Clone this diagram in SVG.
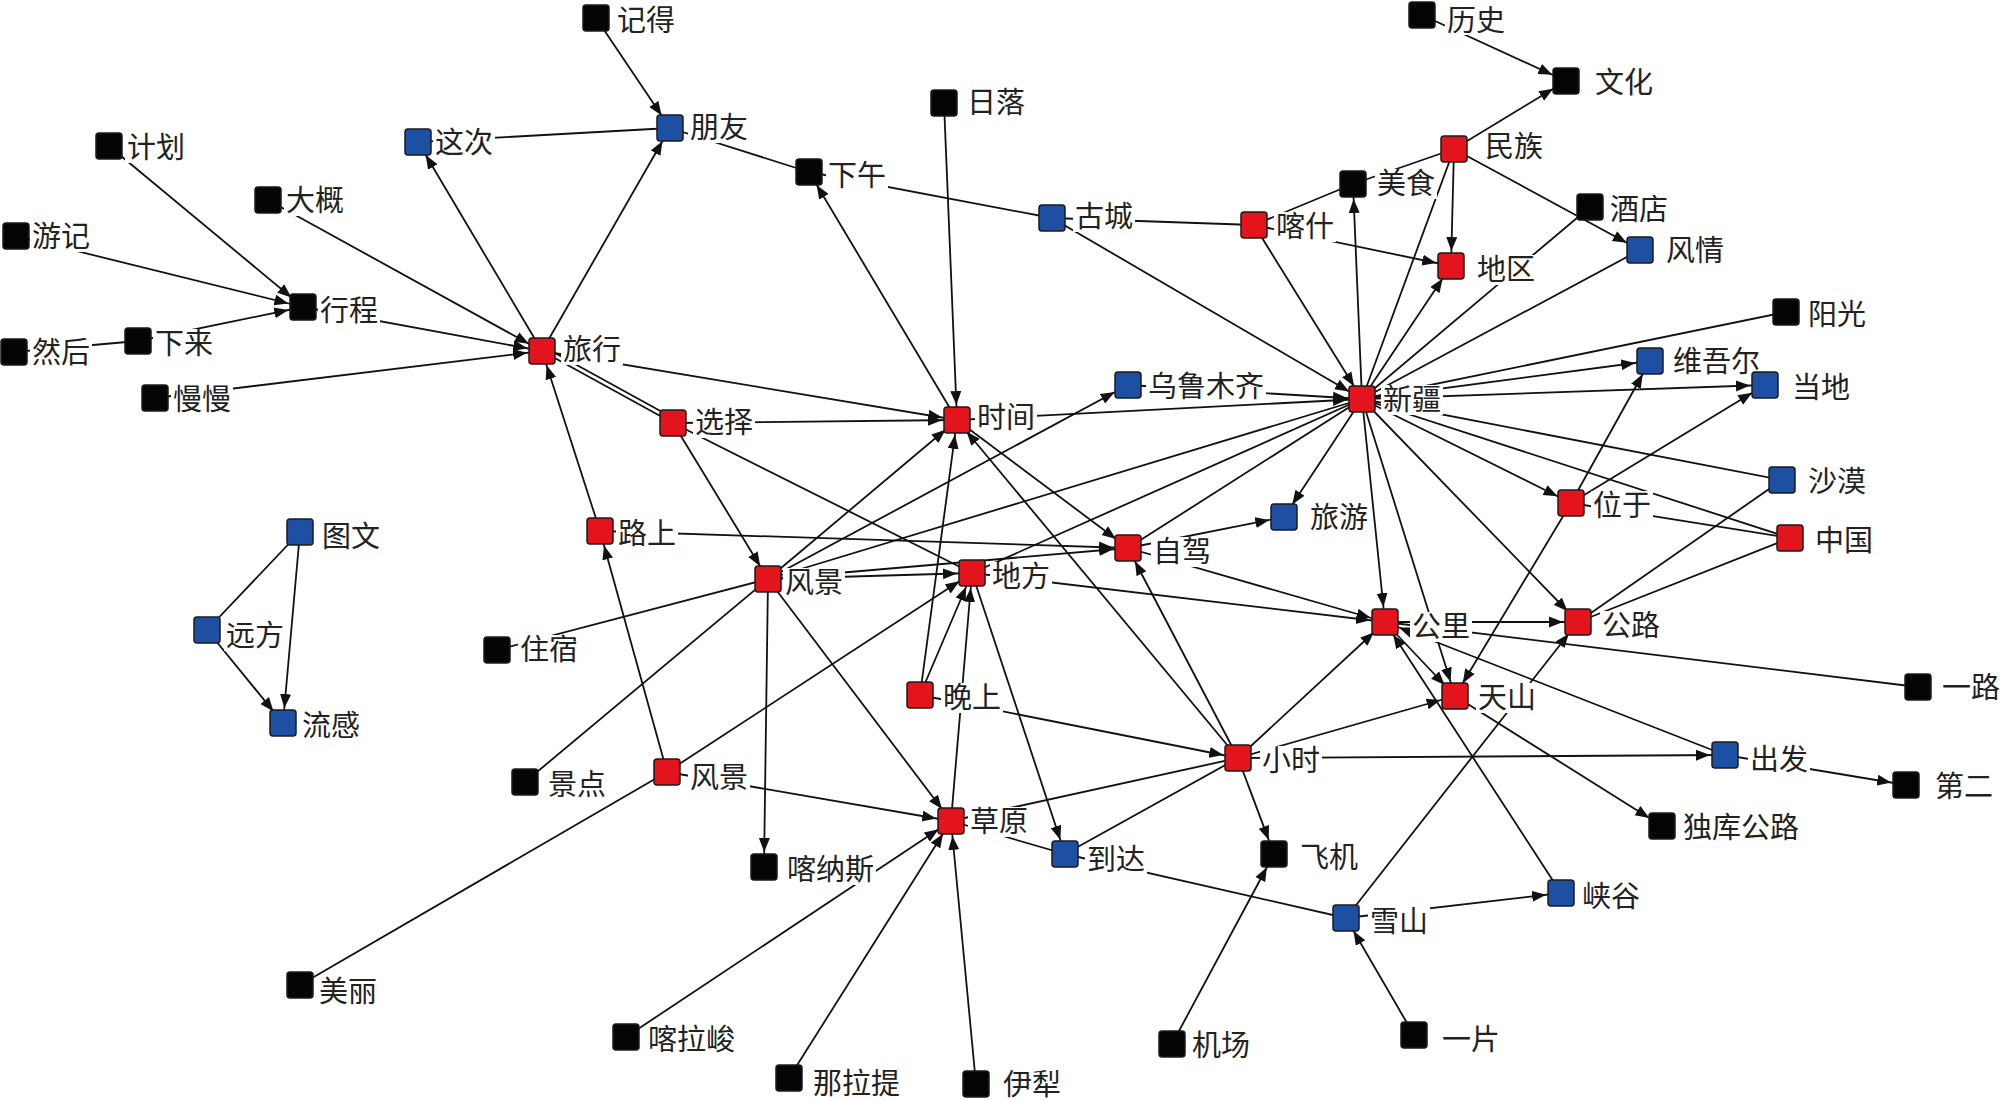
<svg xmlns="http://www.w3.org/2000/svg" width="2000" height="1100" viewBox="0 0 2000 1100">
<defs>
<style>
.e line{stroke:#111;stroke-width:1.8;fill:none}
.a{marker-end:url(#arr)}
.n{stroke:#1b1b1b;stroke-width:1.5}
.r{fill:#e3141b}
.b{fill:#1d50a3}
.k{fill:#050505}
.bg{fill:#fff}
.t{font-family:"Noto Sans CJK SC","Noto Sans",sans-serif;font-size:29px;fill:#222}
</style>
<marker id="arr" markerUnits="userSpaceOnUse" viewBox="0 0 30 12" markerWidth="30" markerHeight="12" refX="29" refY="6" orient="auto"><path d="M0,0.5 L14,6 L0,11.5 z" fill="#111"/></marker>
</defs>
<rect x="0" y="0" width="2000" height="1100" fill="#fff"/>
<g id="edges" class="e">
<line class="a" x1="596" y1="18" x2="670" y2="128"/>
<line x1="418" y1="142" x2="670" y2="128"/>
<line class="a" x1="542" y1="351" x2="418" y2="142"/>
<line class="a" x1="542" y1="351" x2="670" y2="128"/>
<line x1="670" y1="128" x2="809" y2="172"/>
<line x1="809" y1="172" x2="1052" y2="218"/>
<line class="a" x1="957" y1="420" x2="809" y2="172"/>
<line class="a" x1="944" y1="103" x2="957" y2="420"/>
<line class="a" x1="109" y1="146" x2="303" y2="307"/>
<line class="a" x1="16" y1="236" x2="303" y2="307"/>
<line class="a" x1="138" y1="341" x2="303" y2="307"/>
<line x1="14" y1="352" x2="138" y2="341"/>
<line class="a" x1="268" y1="200" x2="542" y2="351"/>
<line class="a" x1="303" y1="307" x2="542" y2="351"/>
<line class="a" x1="155" y1="398" x2="542" y2="351"/>
<line class="a" x1="542" y1="351" x2="957" y2="420"/>
<line x1="673" y1="423" x2="542" y2="351"/>
<line x1="675" y1="419" x2="544" y2="347"/>
<line class="a" x1="673" y1="423" x2="957" y2="420"/>
<line class="a" x1="673" y1="423" x2="768" y2="579"/>
<line x1="673" y1="423" x2="972" y2="573"/>
<line class="a" x1="600" y1="531" x2="542" y2="351"/>
<line class="a" x1="600" y1="531" x2="1128" y2="548"/>
<line class="a" x1="768" y1="579" x2="957" y2="420"/>
<line class="a" x1="768" y1="579" x2="1128" y2="385"/>
<line x1="768" y1="579" x2="1362" y2="399"/>
<line class="a" x1="768" y1="579" x2="972" y2="573"/>
<line class="a" x1="768" y1="579" x2="1128" y2="548"/>
<line class="a" x1="768" y1="579" x2="951" y2="821"/>
<line class="a" x1="768" y1="579" x2="764" y2="867"/>
<line x1="768" y1="579" x2="497" y2="650"/>
<line x1="768" y1="579" x2="525" y2="782"/>
<line class="a" x1="667" y1="772" x2="600" y2="531"/>
<line class="a" x1="667" y1="772" x2="972" y2="573"/>
<line class="a" x1="667" y1="772" x2="951" y2="821"/>
<line x1="667" y1="772" x2="300" y2="985"/>
<line class="a" x1="920" y1="695" x2="957" y2="420"/>
<line class="a" x1="920" y1="695" x2="972" y2="573"/>
<line class="a" x1="920" y1="695" x2="1238" y2="758"/>
<line class="a" x1="951" y1="821" x2="972" y2="573"/>
<line x1="972" y1="573" x2="1362" y2="399"/>
<line class="a" x1="972" y1="573" x2="1385" y2="622"/>
<line class="a" x1="972" y1="573" x2="1065" y2="854"/>
<line class="a" x1="957" y1="420" x2="1362" y2="399"/>
<line class="a" x1="957" y1="420" x2="1128" y2="548"/>
<line class="a" x1="1238" y1="758" x2="957" y2="420"/>
<line class="a" x1="1238" y1="758" x2="1128" y2="548"/>
<line x1="1128" y1="548" x2="1362" y2="399"/>
<line class="a" x1="1128" y1="548" x2="1284" y2="517"/>
<line class="a" x1="1128" y1="548" x2="1385" y2="622"/>
<line class="a" x1="1128" y1="385" x2="1362" y2="399"/>
<line x1="1052" y1="218" x2="1254" y2="225"/>
<line class="a" x1="1052" y1="218" x2="1362" y2="399"/>
<line class="a" x1="1254" y1="225" x2="1362" y2="399"/>
<line class="a" x1="1254" y1="225" x2="1451" y2="266"/>
<line x1="1254" y1="225" x2="1353" y2="184"/>
<line class="a" x1="1362" y1="399" x2="1353" y2="184"/>
<line x1="1353" y1="184" x2="1454" y2="149"/>
<line x1="1362" y1="399" x2="1454" y2="149"/>
<line class="a" x1="1454" y1="149" x2="1451" y2="266"/>
<line class="a" x1="1454" y1="149" x2="1566" y2="81"/>
<line class="a" x1="1422" y1="15" x2="1566" y2="81"/>
<line class="a" x1="1454" y1="149" x2="1640" y2="250"/>
<line class="a" x1="1362" y1="399" x2="1451" y2="266"/>
<line x1="1362" y1="399" x2="1590" y2="207"/>
<line x1="1362" y1="399" x2="1640" y2="250"/>
<line x1="1362" y1="399" x2="1786" y2="312"/>
<line class="a" x1="1362" y1="399" x2="1650" y2="361"/>
<line class="a" x1="1362" y1="399" x2="1765" y2="385"/>
<line x1="1362" y1="399" x2="1782" y2="480"/>
<line x1="1362" y1="399" x2="1790" y2="538"/>
<line class="a" x1="1362" y1="399" x2="1571" y2="503"/>
<line class="a" x1="1362" y1="399" x2="1578" y2="622"/>
<line class="a" x1="1362" y1="399" x2="1455" y2="696"/>
<line class="a" x1="1362" y1="399" x2="1385" y2="622"/>
<line class="a" x1="1362" y1="399" x2="1284" y2="517"/>
<line class="a" x1="1571" y1="503" x2="1650" y2="361"/>
<line class="a" x1="1571" y1="503" x2="1765" y2="385"/>
<line x1="1571" y1="503" x2="1790" y2="538"/>
<line class="a" x1="1571" y1="503" x2="1455" y2="696"/>
<line x1="1782" y1="480" x2="1578" y2="622"/>
<line x1="1790" y1="538" x2="1578" y2="622"/>
<line class="a" x1="1385" y1="622" x2="1578" y2="622"/>
<line x1="1385" y1="622" x2="1918" y2="687"/>
<line class="a" x1="1385" y1="622" x2="1455" y2="696"/>
<line class="a" x1="1725" y1="755" x2="1385" y2="622"/>
<line class="a" x1="1561" y1="893" x2="1385" y2="622"/>
<line class="a" x1="1238" y1="758" x2="1385" y2="622"/>
<line class="a" x1="1238" y1="758" x2="1455" y2="696"/>
<line class="a" x1="1238" y1="758" x2="1725" y2="755"/>
<line class="a" x1="1725" y1="755" x2="1906" y2="785"/>
<line class="a" x1="1455" y1="696" x2="1662" y2="826"/>
<line class="a" x1="1346" y1="918" x2="1578" y2="622"/>
<line class="a" x1="1346" y1="918" x2="1561" y2="893"/>
<line class="a" x1="1414" y1="1035" x2="1346" y2="918"/>
<line x1="1065" y1="854" x2="1346" y2="918"/>
<line x1="951" y1="821" x2="1065" y2="854"/>
<line x1="951" y1="821" x2="1238" y2="758"/>
<line x1="1065" y1="854" x2="1238" y2="758"/>
<line class="a" x1="1238" y1="758" x2="1274" y2="854"/>
<line class="a" x1="1172" y1="1044" x2="1274" y2="854"/>
<line class="a" x1="626" y1="1037" x2="951" y2="821"/>
<line class="a" x1="789" y1="1078" x2="951" y2="821"/>
<line class="a" x1="976" y1="1084" x2="951" y2="821"/>
<line x1="300" y1="532" x2="207" y2="630"/>
<line class="a" x1="207" y1="630" x2="283" y2="723"/>
<line class="a" x1="300" y1="532" x2="283" y2="723"/>
</g>
<g id="n-jide"><rect class="bg" x="615" y="6" width="62" height="30"/><text class="t" x="617" y="31">记得</text><rect class="n k" x="583" y="5" width="26" height="26" rx="3"/></g>
<g id="n-pengyou"><rect class="bg" x="688" y="113" width="62" height="30"/><text class="t" x="690" y="138">朋友</text><rect class="n b" x="657" y="115" width="26" height="26" rx="3"/></g>
<g id="n-zheci"><rect class="bg" x="433" y="128" width="62" height="30"/><text class="t" x="435" y="153">这次</text><rect class="n b" x="405" y="129" width="26" height="26" rx="3"/></g>
<g id="n-jihua"><rect class="bg" x="125" y="133" width="62" height="30"/><text class="t" x="127" y="158">计划</text><rect class="n k" x="96" y="133" width="26" height="26" rx="3"/></g>
<g id="n-dagai"><rect class="bg" x="284" y="186" width="62" height="30"/><text class="t" x="286" y="211">大概</text><rect class="n k" x="255" y="187" width="26" height="26" rx="3"/></g>
<g id="n-youji"><rect class="bg" x="30" y="222" width="62" height="30"/><text class="t" x="32" y="247">游记</text><rect class="n k" x="3" y="223" width="26" height="26" rx="3"/></g>
<g id="n-xingcheng"><rect class="bg" x="318" y="296" width="62" height="30"/><text class="t" x="320" y="321">行程</text><rect class="n k" x="290" y="294" width="26" height="26" rx="3"/></g>
<g id="n-ranhou"><rect class="bg" x="30" y="338" width="62" height="30"/><text class="t" x="32" y="363">然后</text><rect class="n k" x="1" y="339" width="26" height="26" rx="3"/></g>
<g id="n-xialai"><rect class="bg" x="153" y="329" width="62" height="30"/><text class="t" x="155" y="354">下来</text><rect class="n k" x="125" y="328" width="26" height="26" rx="3"/></g>
<g id="n-manman"><rect class="bg" x="171" y="385" width="62" height="30"/><text class="t" x="173" y="410">慢慢</text><rect class="n k" x="142" y="385" width="26" height="26" rx="3"/></g>
<g id="n-lvxing"><rect class="bg" x="561" y="335" width="62" height="30"/><text class="t" x="563" y="360">旅行</text><rect class="n r" x="529" y="338" width="26" height="26" rx="3"/></g>
<g id="n-xiawu"><rect class="bg" x="826" y="161" width="62" height="30"/><text class="t" x="828" y="186">下午</text><rect class="n k" x="796" y="159" width="26" height="26" rx="3"/></g>
<g id="n-riluo"><rect class="bg" x="965" y="88" width="62" height="30"/><text class="t" x="967" y="113">日落</text><rect class="n k" x="931" y="90" width="26" height="26" rx="3"/></g>
<g id="n-gucheng"><rect class="bg" x="1073" y="202" width="62" height="30"/><text class="t" x="1075" y="227">古城</text><rect class="n b" x="1039" y="205" width="26" height="26" rx="3"/></g>
<g id="n-kashi"><rect class="bg" x="1274" y="212" width="62" height="30"/><text class="t" x="1276" y="237">喀什</text><rect class="n r" x="1241" y="212" width="26" height="26" rx="3"/></g>
<g id="n-meishi"><rect class="bg" x="1375" y="169" width="62" height="30"/><text class="t" x="1377" y="194">美食</text><rect class="n k" x="1340" y="171" width="26" height="26" rx="3"/></g>
<g id="n-minzu"><rect class="bg" x="1483" y="132" width="62" height="30"/><text class="t" x="1485" y="157">民族</text><rect class="n r" x="1441" y="136" width="26" height="26" rx="3"/></g>
<g id="n-diqu"><rect class="bg" x="1475" y="255" width="62" height="30"/><text class="t" x="1477" y="280">地区</text><rect class="n r" x="1438" y="253" width="26" height="26" rx="3"/></g>
<g id="n-lishi"><rect class="bg" x="1445" y="5" width="62" height="30"/><text class="t" x="1447" y="31">历史</text><rect class="n k" x="1409" y="2" width="26" height="26" rx="3"/></g>
<g id="n-wenhua"><rect class="bg" x="1593" y="68" width="62" height="30"/><text class="t" x="1595" y="93">文化</text><rect class="n k" x="1553" y="68" width="26" height="26" rx="3"/></g>
<g id="n-jiudian"><rect class="bg" x="1608" y="195" width="62" height="30"/><text class="t" x="1610" y="220">酒店</text><rect class="n k" x="1577" y="194" width="26" height="26" rx="3"/></g>
<g id="n-fengqing"><rect class="bg" x="1664" y="236" width="62" height="30"/><text class="t" x="1666" y="261">风情</text><rect class="n b" x="1627" y="237" width="26" height="26" rx="3"/></g>
<g id="n-yangguang"><rect class="bg" x="1806" y="300" width="62" height="30"/><text class="t" x="1808" y="325">阳光</text><rect class="n k" x="1773" y="299" width="26" height="26" rx="3"/></g>
<g id="n-weiwuer"><rect class="bg" x="1671" y="347" width="91" height="30"/><text class="t" x="1673" y="372">维吾尔</text><rect class="n b" x="1637" y="348" width="26" height="26" rx="3"/></g>
<g id="n-dangdi"><rect class="bg" x="1790" y="373" width="62" height="30"/><text class="t" x="1792" y="398">当地</text><rect class="n b" x="1752" y="372" width="26" height="26" rx="3"/></g>
<g id="n-shamo"><rect class="bg" x="1806" y="467" width="62" height="30"/><text class="t" x="1808" y="492">沙漠</text><rect class="n b" x="1769" y="467" width="26" height="26" rx="3"/></g>
<g id="n-weiyu"><rect class="bg" x="1591" y="491" width="62" height="30"/><text class="t" x="1593" y="516">位于</text><rect class="n r" x="1558" y="490" width="26" height="26" rx="3"/></g>
<g id="n-zhongguo"><rect class="bg" x="1813" y="526" width="62" height="30"/><text class="t" x="1815" y="551">中国</text><rect class="n r" x="1777" y="525" width="26" height="26" rx="3"/></g>
<g id="n-gonglu"><rect class="bg" x="1600" y="611" width="62" height="30"/><text class="t" x="1602" y="636">公路</text><rect class="n r" x="1565" y="609" width="26" height="26" rx="3"/></g>
<g id="n-yilu"><rect class="bg" x="1940" y="673" width="60" height="30"/><text class="t" x="1942" y="698">一路</text><rect class="n k" x="1905" y="674" width="26" height="26" rx="3"/></g>
<g id="n-xuanze"><rect class="bg" x="693" y="408" width="62" height="30"/><text class="t" x="695" y="433">选择</text><rect class="n r" x="660" y="410" width="26" height="26" rx="3"/></g>
<g id="n-shijian"><rect class="bg" x="975" y="403" width="62" height="30"/><text class="t" x="977" y="428">时间</text><rect class="n r" x="944" y="407" width="26" height="26" rx="3"/></g>
<g id="n-lushang"><rect class="bg" x="616" y="519" width="62" height="30"/><text class="t" x="618" y="544">路上</text><rect class="n r" x="587" y="518" width="26" height="26" rx="3"/></g>
<g id="n-fengjing1"><rect class="bg" x="783" y="568" width="62" height="30"/><text class="t" x="785" y="593">风景</text><rect class="n r" x="755" y="566" width="26" height="26" rx="3"/></g>
<g id="n-difang"><rect class="bg" x="990" y="562" width="62" height="30"/><text class="t" x="992" y="587">地方</text><rect class="n r" x="959" y="560" width="26" height="26" rx="3"/></g>
<g id="n-wanshang"><rect class="bg" x="941" y="683" width="62" height="30"/><text class="t" x="943" y="708">晚上</text><rect class="n r" x="907" y="682" width="26" height="26" rx="3"/></g>
<g id="n-zhusu"><rect class="bg" x="518" y="635" width="62" height="30"/><text class="t" x="520" y="660">住宿</text><rect class="n k" x="484" y="637" width="26" height="26" rx="3"/></g>
<g id="n-tuwen"><rect class="bg" x="320" y="522" width="62" height="30"/><text class="t" x="322" y="547">图文</text><rect class="n b" x="287" y="519" width="26" height="26" rx="3"/></g>
<g id="n-yuanfang"><rect class="bg" x="224" y="621" width="62" height="30"/><text class="t" x="226" y="646">远方</text><rect class="n b" x="194" y="617" width="26" height="26" rx="3"/></g>
<g id="n-liugan"><rect class="bg" x="300" y="711" width="62" height="30"/><text class="t" x="302" y="736">流感</text><rect class="n b" x="270" y="710" width="26" height="26" rx="3"/></g>
<g id="n-wulumuqi"><rect class="bg" x="1146" y="372" width="120" height="30"/><text class="t" x="1148" y="397">乌鲁木齐</text><rect class="n b" x="1115" y="372" width="26" height="26" rx="3"/></g>
<g id="n-xinjiang"><rect class="bg" x="1381" y="385" width="62" height="30"/><text class="t" x="1383" y="410">新疆</text><rect class="n r" x="1349" y="386" width="26" height="26" rx="3"/></g>
<g id="n-lvyou"><rect class="bg" x="1308" y="503" width="62" height="30"/><text class="t" x="1310" y="528">旅游</text><rect class="n b" x="1271" y="504" width="26" height="26" rx="3"/></g>
<g id="n-zijia"><rect class="bg" x="1151" y="537" width="62" height="30"/><text class="t" x="1153" y="562">自驾</text><rect class="n r" x="1115" y="535" width="26" height="26" rx="3"/></g>
<g id="n-gongli"><rect class="bg" x="1410" y="612" width="62" height="30"/><text class="t" x="1412" y="637">公里</text><rect class="n r" x="1372" y="609" width="26" height="26" rx="3"/></g>
<g id="n-tianshan"><rect class="bg" x="1476" y="683" width="62" height="30"/><text class="t" x="1478" y="708">天山</text><rect class="n r" x="1442" y="683" width="26" height="26" rx="3"/></g>
<g id="n-meili"><rect class="bg" x="317" y="977" width="62" height="30"/><text class="t" x="319" y="1002">美丽</text><rect class="n k" x="287" y="972" width="26" height="26" rx="3"/></g>
<g id="n-jingdian"><rect class="bg" x="546" y="770" width="62" height="30"/><text class="t" x="548" y="795">景点</text><rect class="n k" x="512" y="769" width="26" height="26" rx="3"/></g>
<g id="n-fengjing2"><rect class="bg" x="688" y="763" width="62" height="30"/><text class="t" x="690" y="788">风景</text><rect class="n r" x="654" y="759" width="26" height="26" rx="3"/></g>
<g id="n-caoyuan"><rect class="bg" x="968" y="807" width="62" height="30"/><text class="t" x="970" y="832">草原</text><rect class="n r" x="938" y="808" width="26" height="26" rx="3"/></g>
<g id="n-kanasi"><rect class="bg" x="785" y="855" width="91" height="30"/><text class="t" x="787" y="880">喀纳斯</text><rect class="n k" x="751" y="854" width="26" height="26" rx="3"/></g>
<g id="n-kalajun"><rect class="bg" x="646" y="1025" width="91" height="30"/><text class="t" x="648" y="1050">喀拉峻</text><rect class="n k" x="613" y="1024" width="26" height="26" rx="3"/></g>
<g id="n-nalati"><rect class="bg" x="811" y="1069" width="91" height="30"/><text class="t" x="813" y="1094">那拉提</text><rect class="n k" x="776" y="1065" width="26" height="26" rx="3"/></g>
<g id="n-yili"><rect class="bg" x="1001" y="1070" width="62" height="30"/><text class="t" x="1003" y="1095">伊犁</text><rect class="n k" x="963" y="1071" width="26" height="26" rx="3"/></g>
<g id="n-xiaoshi"><rect class="bg" x="1260" y="746" width="62" height="30"/><text class="t" x="1262" y="771">小时</text><rect class="n r" x="1225" y="745" width="26" height="26" rx="3"/></g>
<g id="n-daoda"><rect class="bg" x="1085" y="845" width="62" height="30"/><text class="t" x="1087" y="870">到达</text><rect class="n b" x="1052" y="841" width="26" height="26" rx="3"/></g>
<g id="n-feiji"><rect class="bg" x="1298" y="843" width="62" height="30"/><text class="t" x="1300" y="868">飞机</text><rect class="n k" x="1261" y="841" width="26" height="26" rx="3"/></g>
<g id="n-xueshan"><rect class="bg" x="1368" y="907" width="62" height="30"/><text class="t" x="1370" y="932">雪山</text><rect class="n b" x="1333" y="905" width="26" height="26" rx="3"/></g>
<g id="n-jichang"><rect class="bg" x="1190" y="1031" width="62" height="30"/><text class="t" x="1192" y="1056">机场</text><rect class="n k" x="1159" y="1031" width="26" height="26" rx="3"/></g>
<g id="n-yipian"><rect class="bg" x="1440" y="1025" width="62" height="30"/><text class="t" x="1442" y="1050">一片</text><rect class="n k" x="1401" y="1022" width="26" height="26" rx="3"/></g>
<g id="n-chufa"><rect class="bg" x="1748" y="745" width="62" height="30"/><text class="t" x="1750" y="770">出发</text><rect class="n b" x="1712" y="742" width="26" height="26" rx="3"/></g>
<g id="n-dier"><rect class="bg" x="1933" y="772" width="62" height="30"/><text class="t" x="1935" y="797">第二</text><rect class="n k" x="1893" y="772" width="26" height="26" rx="3"/></g>
<g id="n-dukugonglu"><rect class="bg" x="1681" y="813" width="120" height="30"/><text class="t" x="1683" y="838">独库公路</text><rect class="n k" x="1649" y="813" width="26" height="26" rx="3"/></g>
<g id="n-xiagu"><rect class="bg" x="1580" y="882" width="62" height="30"/><text class="t" x="1582" y="907">峡谷</text><rect class="n b" x="1548" y="880" width="26" height="26" rx="3"/></g>
</svg>
